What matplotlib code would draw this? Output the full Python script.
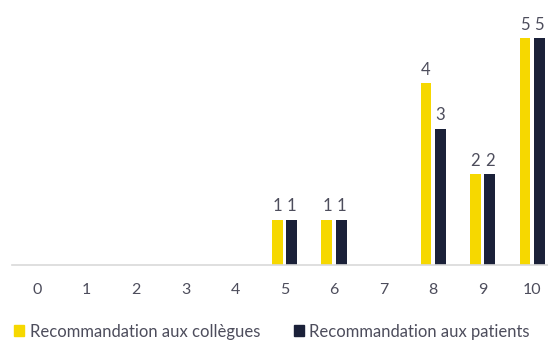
import matplotlib
matplotlib.use("Agg")
import matplotlib.pyplot as plt
import numpy as np
from matplotlib.patches import Patch

categories = ["0", "1", "2", "3", "4", "5", "6", "7", "8", "9", "10"]
collegues = [0, 0, 0, 0, 0, 1, 1, 0, 4, 2, 5]
patients = [0, 0, 0, 0, 0, 1, 1, 0, 3, 2, 5]
series_names = ["Recommandation aux collègues", "Recommandation aux patients"]

c_yellow = "#F6D800"
c_navy = "#1B2139"
txt = "#4d4d5c"

plt.rcParams['font.family'] = ['Lato', 'DejaVu Sans']

fig = plt.figure(figsize=(5.48, 3.47), dpi=100)
ax = fig.add_axes([0.022, 0.2363, 0.978, 0.72])

x = np.arange(len(categories))
w = 0.22
off = 0.145
b1 = ax.bar(x - off, collegues, w, color=c_yellow)
b2 = ax.bar(x + off, patients, w, color=c_navy)

for bars, vals in ((b1, collegues), (b2, patients)):
    for r, v in zip(bars, vals):
        if v > 0:
            ax.text(r.get_x() + r.get_width() / 2, v + 0.12, str(v),
                    ha='center', va='bottom', fontsize=12, color=txt)

ax.set_xlim(-0.505, 10.32)
ax.set_ylim(0, 5.0 / (265 - 37) * (265 - 14))
ax.set_xticks(x)
ax.set_xticklabels(categories, fontsize=11.5, color=txt)
ax.tick_params(axis='x', length=0, pad=13)
ax.set_yticks([])
for s in ['top', 'right', 'left']:
    ax.spines[s].set_visible(False)
ax.spines['bottom'].set_color('#d9d9d9')
ax.spines['bottom'].set_linewidth(1.2)

handles = [Patch(color=c_yellow), Patch(color=c_navy)]
leg = fig.legend(handles, series_names, loc='lower left', bbox_to_anchor=(0.012, 0.0),
                 ncol=2, frameon=False, fontsize=12, handlelength=0.6, handleheight=0.6,
                 handletextpad=0.35, columnspacing=2.0, borderaxespad=0.05)
for t in leg.get_texts():
    t.set_color(txt)

fig.savefig("out.png", dpi=100)
